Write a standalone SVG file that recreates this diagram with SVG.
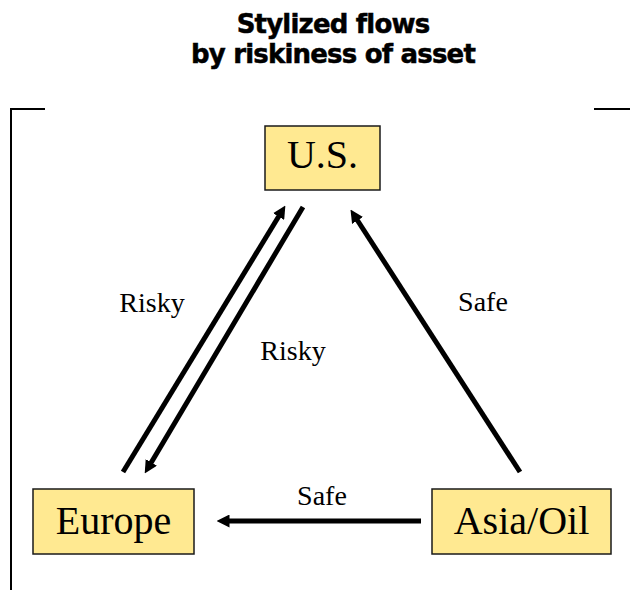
<svg xmlns="http://www.w3.org/2000/svg" width="630" height="590" viewBox="0 0 630 590">
<style>
.box{fill:#FFE991;stroke:#1a1a1a;stroke-width:1.5}
.nt{font-family:"Liberation Serif",serif;font-size:40px;text-anchor:middle;fill:#000}
.lb{font-family:"Liberation Serif",serif;font-size:28px;text-anchor:middle;fill:#000}
.tt{font-family:"DejaVu Sans",sans-serif;font-size:26px;font-weight:bold;text-anchor:middle;fill:#000;letter-spacing:-0.8px;stroke:#000;stroke-width:0.5}
.c{stroke:#000;stroke-width:5;fill:none;marker-end:url(#ah)}
.fr{stroke:#000;stroke-width:2;fill:none}
</style>
<defs>
<marker id="ah" viewBox="0 0 10 10" refX="5" refY="5" markerWidth="2.6" markerHeight="2.6" orient="auto" markerUnits="strokeWidth">
<path d="M0,0 L10,5 L0,10 z" fill="#000"/>
</marker>
</defs>
<rect width="630" height="590" fill="#fff"/>
<g id="title">
<text class="tt" x="333" y="33">Stylized flows</text>
<text class="tt" x="333" y="63">by riskiness of asset</text>
</g>
<g id="frame">
<path class="fr" d="M45,109 H11 V590"/>
<path class="fr" d="M594,109 H630"/>
</g>
<g id="connectors">
<line class="c" x1="123" y1="472" x2="282" y2="211"/>
<line class="c" x1="303" y1="207" x2="148" y2="468"/>
<line class="c" x1="520" y1="472" x2="354" y2="215"/>
<line class="c" x1="421" y1="521" x2="223" y2="521"/>
<text class="lb" x="152" y="312">Risky</text>
<text class="lb" x="293" y="360">Risky</text>
<text class="lb" x="483" y="311">Safe</text>
<text class="lb" x="322" y="505">Safe</text>
</g>
<g id="us">
<rect class="box" x="265" y="126" width="115" height="64"/>
<text class="nt" x="322.5" y="168">U.S.</text>
</g>
<g id="europe">
<rect class="box" x="33" y="489" width="161" height="65"/>
<text class="nt" x="113.5" y="534">Europe</text>
</g>
<g id="asia">
<rect class="box" x="432" y="489" width="179" height="65"/>
<text class="nt" x="521.5" y="534">Asia/Oil</text>
</g>
</svg>
